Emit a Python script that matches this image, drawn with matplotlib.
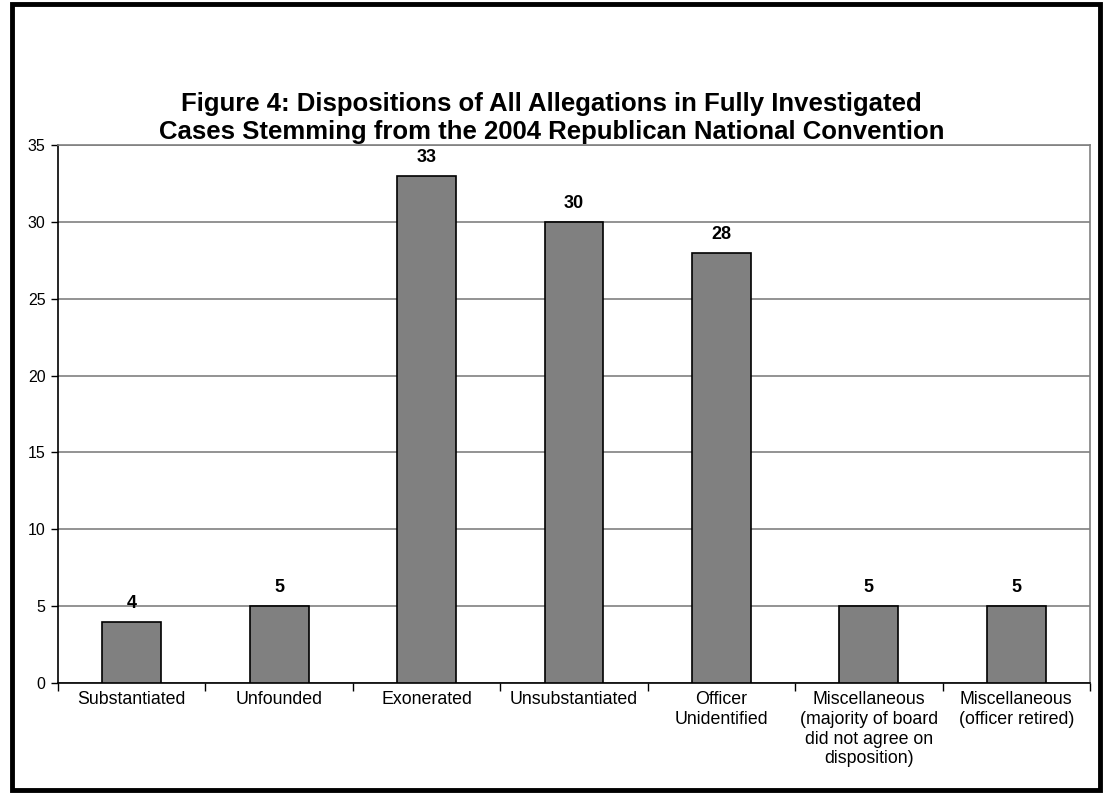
import matplotlib
matplotlib.use("Agg")
import matplotlib.pyplot as plt
from matplotlib.patches import Rectangle

categories = ["Substantiated", "Unfounded", "Exonerated", "Unsubstantiated",
              "Officer\nUnidentified",
              "Miscellaneous\n(majority of board\ndid not agree on\ndisposition)",
              "Miscellaneous\n(officer retired)"]
values = [4, 5, 33, 30, 28, 5, 5]
yticks = [0, 5, 10, 15, 20, 25, 30, 35]
title = ("Figure 4: Dispositions of All Allegations in Fully Investigated\n"
         "Cases Stemming from the 2004 Republican National Convention")

plt.rcParams['font.family'] = ['Liberation Sans', 'DejaVu Sans']

fig = plt.figure(figsize=(11.03, 7.93), dpi=100)
W, H = 1103, 793
ax = fig.add_axes([58 / W, 1 - 683 / H, (1090 - 58) / W, (683 - 145) / H])

x = list(range(len(categories)))
ax.bar(x, values, width=0.4, color="#808080", edgecolor="black", linewidth=1.2, zorder=3)
for xi, v in zip(x, values):
    ax.annotate(str(v), (xi, v), xytext=(0, 7), textcoords="offset points",
                ha="center", va="bottom", fontsize=13, fontweight="bold")

ax.set_xlim(-0.5, len(categories) - 0.5)
ax.set_ylim(0, 35)
ax.set_yticks(yticks)
ax.set_yticklabels([str(t) for t in yticks], fontsize=11.5)
ax.yaxis.grid(True, color="#808080", linewidth=1.2, zorder=0)
ax.set_axisbelow(True)

ax.set_xticks(x)
ax.set_xticklabels(categories, fontsize=12.8, linespacing=1.2)
ax.tick_params(axis="x", length=0, pad=6)
ax.set_xticks([i - 0.5 for i in range(len(categories) + 1)], minor=True)
ax.tick_params(axis="x", which="minor", length=6, width=1, color="black", direction="out")
ax.tick_params(axis="y", length=5, width=1, color="black", direction="out", pad=4)

for s in ["left", "bottom"]:
    ax.spines[s].set_color("black")
    ax.spines[s].set_linewidth(1.2)
for s in ["top", "right"]:
    ax.spines[s].set_color("#808080")
    ax.spines[s].set_linewidth(1.2)

fig.text(0.5, 1 - 118 / H, title, ha="center", va="center", fontsize=18.5,
         fontweight="bold", linespacing=1.2)

fig.patches.append(Rectangle((12 / W, 3 / H), (1100 - 12) / W, (789 - 3) / H,
                             transform=fig.transFigure, fill=False,
                             edgecolor="black", linewidth=3.5))
fig.savefig("out.png", dpi=100)
